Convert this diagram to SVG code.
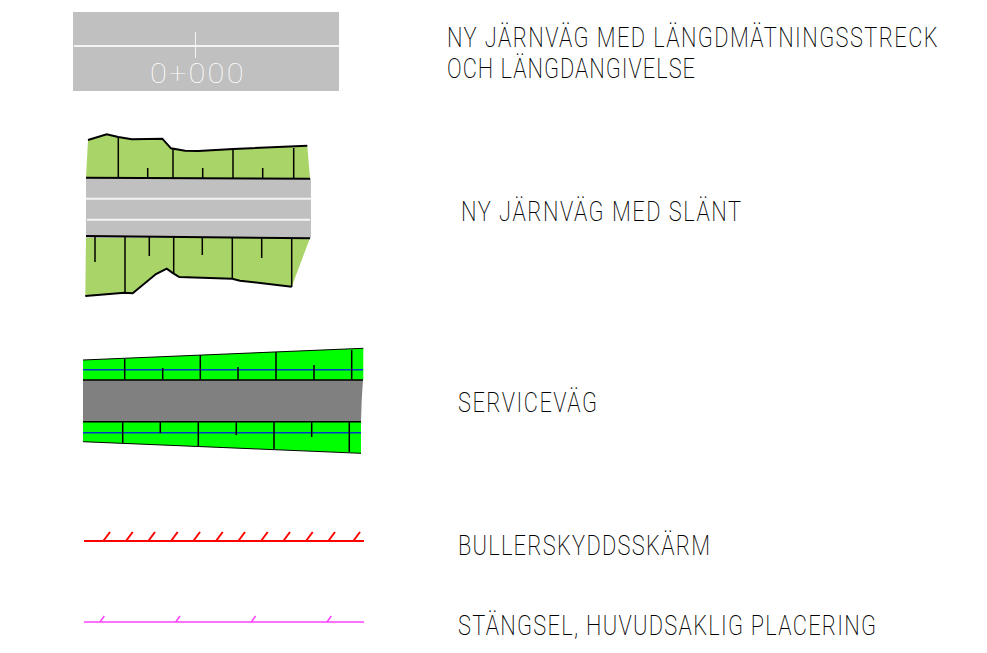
<svg xmlns="http://www.w3.org/2000/svg" width="987" height="653" viewBox="0 0 987 653">
<style>
.lbl{font-family:"Roboto","Liberation Sans",sans-serif;font-weight:200;font-size:28px;fill:#000}
.k{stroke:#000;stroke-width:1.500;fill:none}
.k3{stroke:#000;stroke-width:2;fill:none}
.k2{stroke:#000;stroke-width:1;fill:none}
.w{stroke:#f4f4f4;stroke-width:2;fill:none}
.b{stroke:#0038c8;stroke-width:1.500;fill:none}
.r{stroke:#ff0000;stroke-width:2;fill:none}
.m{stroke:#ff40ff;stroke-width:1.500;fill:none}
.ch{font-family:Roboto,"Liberation Sans",sans-serif;font-weight:100;font-size:28px;fill:#fff}
</style>
<rect width="987" height="653" fill="#fff"/>
<g id="ny-jarnvag">
<rect x="73" y="12" width="266" height="79" fill="#c0c0c0"/>
<path class="w" d="M74 46H339"/>
<path stroke="#f4f4f4" stroke-width="1" d="M195.500 32V58"/>
<text class="ch" transform="translate(150 83) scale(1.1 1)" textLength="85" lengthAdjust="spacing">0+000</text>
<text class="lbl" transform="translate(447 47) scale(.78 1)" textLength="629" lengthAdjust="spacing">NY JÄRNVÄG MED LÄNGDMÄTNINGSSTRECK</text>
<text class="lbl" transform="translate(447 78) scale(.78 1)" textLength="318" lengthAdjust="spacing">OCH LÄNGDANGIVELSE</text>
</g>
<g id="ny-jarnvag-slant">
<path fill="#a9d468" d="M88 140L106.700 134.300L118.300 137L131.700 139.300L162.300 138.700L171 148.300L185 150.700L198.300 151L233.300 149L307.300 145.700L310 178.300L86 177.700Z"/>
<path fill="#a9d468" d="M86 236.700L310 238L291.700 286.700L240 280.700L232.300 278.700L179.300 277L173.300 273.300L166.700 268.700L156 274L132.700 293.300L124.300 292.700L85.300 296Z"/>
<rect x="86" y="178" width="225" height="60" fill="#c0c0c0"/>
<path class="w" d="M86 198.700H311M87 219.700H310"/>
<path class="k3" d="M88 140L106.700 134.300L118.300 137L131.700 139.300L162.300 138.700L171 148.300L185 150.700L198.300 151L233.300 149L307.300 145.700"/>
<path class="k3" d="M86 177.700L310 178.700M86 236L310 238.300"/>
<path class="k3" d="M291.700 286.700L240 280.700L232.300 278.700L179.300 277L173.300 273.300L166.700 268.700L156 274L132.700 293.300L124.300 292.700L85.300 296"/>
<path class="k" d="M118.300 137V178M147.700 168V178M173 149V178M202.700 168V178M233 149V178M262.700 168V178M293.700 148V178M95 237V262M125 237V293M149.300 237V256M173.700 237V273M202.300 238V255M232.300 238V279M261.700 238V258M291.700 238V287"/>
<text class="lbl" transform="translate(461 221) scale(.78 1)" textLength="359" lengthAdjust="spacing">NY JÄRNVÄG MED SLÄNT</text>
</g>
<g id="servicevag">
<path fill="#00ff00" d="M83 360L363.300 348.300V380H83Z"/>
<path fill="#00ff00" d="M83 421.700H361V453.300L83 441.700Z"/>
<path fill="#808080" d="M83 380H363L361.700 400L361 421.700H83Z"/>
<path class="k2" d="M83 360L363.300 348.300M83 441.700L361 453.300"/>
<path class="b" d="M83 369.700H363M83 432.700H361"/>
<path class="k" d="M83 380H363M83 421.700H361"/>
<path class="k" d="M124.700 359V380M162.700 368V380M200.300 355V380M238 367V380M276 352V380M314 365V380M351.700 350V380M122.700 422V443M160.300 422V433M198.300 422V446M236.300 422V435M274 422V449M311.700 422V437M349.300 422V452"/>
<text class="lbl" transform="translate(458 412) scale(.78 1)" textLength="178" lengthAdjust="spacing">SERVICEVÄG</text>
</g>
<g id="bullerskyddsskarm">
<path class="r" d="M84 541H364"/>
<path class="r" d="M103.300 541L110 532M126 541L132.700 532M148.300 541L155 532M171 541L177.700 532M193.300 541L200 532M216 541L222.700 532M238.300 541L245 532M261 541L267.700 532M283.300 541L290 532M306 541L312.700 532M328.300 541L335 532M353.300 541L360 532"/>
<text class="lbl" transform="translate(458 555) scale(.78 1)" textLength="323" lengthAdjust="spacing">BULLERSKYDDSSKÄRM</text>
</g>
<g id="stangsel">
<path class="m" d="M84 622H364"/>
<path class="m" d="M100 622L104.300 616M175.700 622L180 616M251.300 622L255.600 616M327 622L331.300 616"/>
<text class="lbl" transform="translate(458 635) scale(.78 1)" textLength="536" lengthAdjust="spacing">STÄNGSEL, HUVUDSAKLIG PLACERING</text>
</g>
</svg>
